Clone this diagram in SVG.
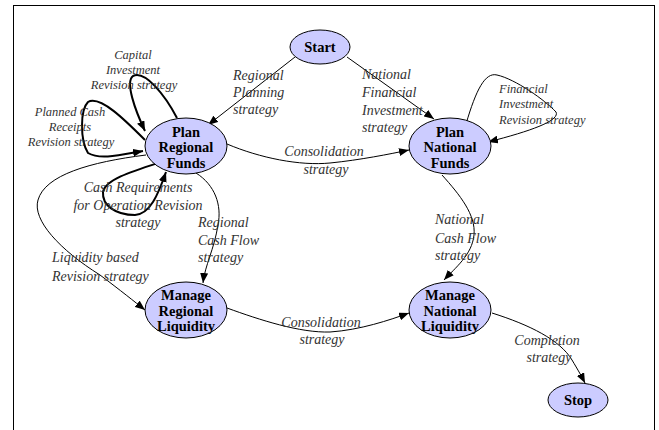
<svg xmlns="http://www.w3.org/2000/svg" width="659" height="430" viewBox="0 0 659 430">
<defs>
<marker id="arr" viewBox="0 0 10 8" refX="10" refY="4" markerWidth="10" markerHeight="8" orient="auto" markerUnits="userSpaceOnUse">
<path d="M0,0 L10,4 L0,8 Z" fill="#000"/>
</marker>
<style>
.node ellipse{fill:#ccccff;stroke:#000;stroke-width:1}
.node text{font-family:"Liberation Serif",serif;font-weight:bold;font-size:14.5px;text-anchor:middle;fill:#000}
.e{fill:none;stroke:#000;stroke-width:1;marker-end:url(#arr)}
.t{stroke-width:2}
.lb{font-family:"Liberation Serif",serif;font-style:italic;font-size:14px;fill:#333}
.sm{font-size:12.5px}
.c{text-anchor:middle}
</style>
</defs>
<rect x="13.5" y="5.5" width="641" height="440" fill="#fff" stroke="#000"/>
<g id="connectors">
<path class="e" d="M295,57 L208,125"/>
<path class="e" d="M347,57 L434,119"/>
<path class="e" d="M466,124 C476,90 485,72 497,75 C515,79 545,100 556,112 C560,120 535,130 488,142"/>
<path class="e" d="M227,144 C260,158 300,166 330,163 C360,160 390,154 409,150"/>
<path class="e" d="M442,175 C460,195 476,215 474,235 C472,255 455,268 444,280"/>
<path class="e" d="M227,308 C260,320 300,333 330,332 C360,330 390,320 409,313"/>
<path class="e" d="M492,313 C530,325 560,340 572,360 C578,370 582,377 585,383"/>
<path class="e" d="M196,173 C215,185 222,205 218,225 C214,250 205,265 203,283"/>
<path class="e" d="M146,155 C90,162 45,175 38,200 C32,220 60,250 100,275 C120,290 135,302 145,310"/>
<path class="e t" d="M177,118 C165,95 145,70 133,76 C125,82 135,110 145,131"/>
<path class="e t" d="M145,140 C125,120 100,95 88,102 C80,110 80,140 88,153 C100,160 120,155 143,151"/>
<path class="e t" d="M158,163 C130,172 105,180 103,192 C102,205 115,215 135,215 C150,214 158,195 166,172"/>
</g>
<g id="labels">
<text class="lb" x="233" y="80">Regional</text>
<text class="lb" x="233" y="97">Planning</text>
<text class="lb" x="233" y="114">strategy</text>
<text class="lb" x="362" y="79">National</text>
<text class="lb" x="362" y="97">Financial</text>
<text class="lb" x="362" y="115">Investment</text>
<text class="lb" x="362" y="132">strategy</text>
<text class="lb sm" x="499" y="93">Financial</text>
<text class="lb sm" x="499" y="108">Investment</text>
<text class="lb sm" x="499" y="124">Revision strategy</text>
<text class="lb c" x="324" y="156">Consolidation</text>
<text class="lb c" x="326" y="174">strategy</text>
<text class="lb" x="435" y="224">National</text>
<text class="lb" x="435" y="243">Cash Flow</text>
<text class="lb" x="435" y="260">strategy</text>
<text class="lb c" x="321" y="327">Consolidation</text>
<text class="lb c" x="322" y="344">strategy</text>
<text class="lb c" x="547" y="345">Completion</text>
<text class="lb c" x="549" y="362">strategy</text>
<text class="lb" x="198" y="227">Regional</text>
<text class="lb" x="198" y="245">Cash Flow</text>
<text class="lb" x="198" y="262">strategy</text>
<text class="lb" x="52" y="262">Liquidity based</text>
<text class="lb" x="52" y="281">Revision strategy</text>
<text class="lb sm c" x="133" y="59">Capital</text>
<text class="lb sm c" x="133" y="74">Investment</text>
<text class="lb sm c" x="134" y="89">Revision strategy</text>
<text class="lb sm c" x="70" y="116">Planned Cash</text>
<text class="lb sm c" x="70" y="131">Receipts</text>
<text class="lb sm c" x="71" y="146">Revision strategy</text>
<text class="lb c" x="138" y="192">Cash Requirements</text>
<text class="lb c" x="138" y="210">for Operation Revision</text>
<text class="lb c" x="138" y="227">strategy</text>
</g>
<g id="start" class="node"><ellipse cx="320" cy="47" rx="30" ry="17"/><text x="320" y="52">Start</text></g>
<g id="plan-regional" class="node"><ellipse cx="186" cy="146" rx="41" ry="28"/><text x="186" y="137">Plan</text><text x="186" y="152">Regional</text><text x="186" y="168">Funds</text></g>
<g id="plan-national" class="node"><ellipse cx="450" cy="146" rx="41" ry="28"/><text x="450" y="137">Plan</text><text x="450" y="152">National</text><text x="450" y="168">Funds</text></g>
<g id="manage-regional" class="node"><ellipse cx="186" cy="310" rx="41" ry="28"/><text x="186" y="300">Manage</text><text x="186" y="316">Regional</text><text x="186" y="331">Liquidity</text></g>
<g id="manage-national" class="node"><ellipse cx="450" cy="310" rx="41" ry="28"/><text x="450" y="300">Manage</text><text x="450" y="316">National</text><text x="450" y="331">Liquidity</text></g>
<g id="stop" class="node"><ellipse cx="578" cy="400" rx="30" ry="17"/><text x="578" y="405">Stop</text></g>
</svg>
